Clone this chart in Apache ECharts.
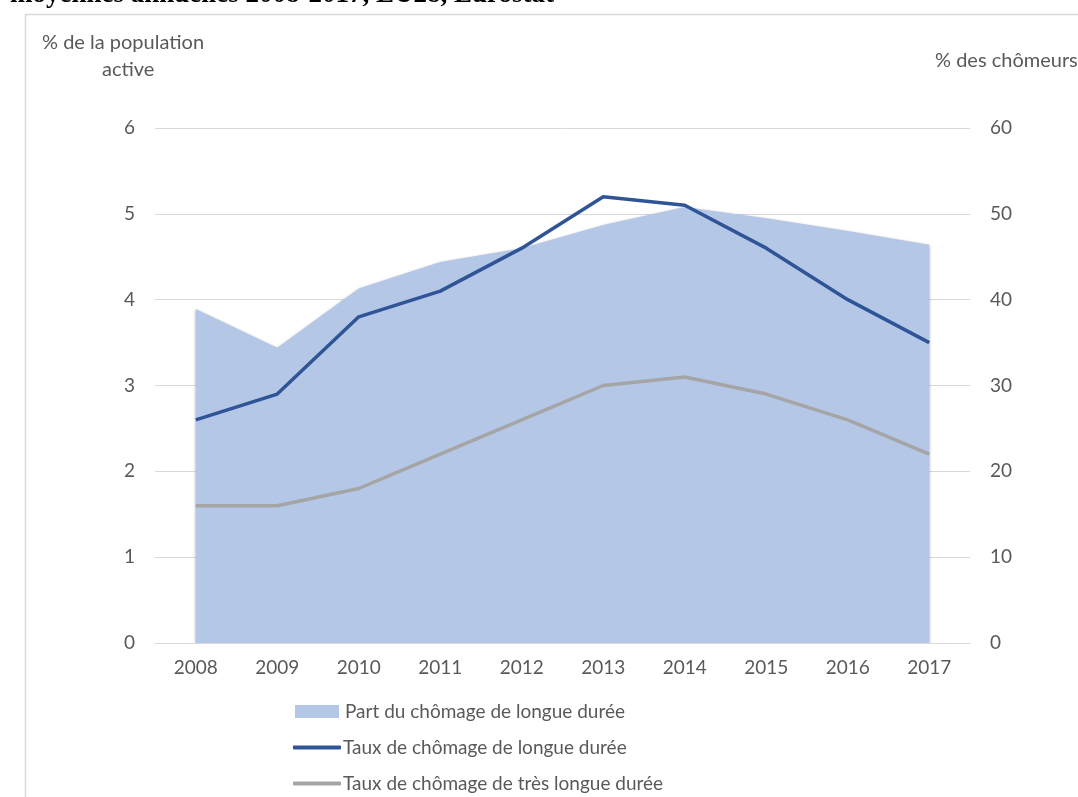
<!DOCTYPE html>
<html>
<head>
<meta charset="utf-8">
<script src="https://cdn.jsdelivr.net/npm/echarts@6/dist/echarts.min.js"></script>
<style>
  html, body { margin: 0; padding: 0; background: #fff; }
  #chart { width: 1078px; height: 797px; }
</style>
</head>
<body>
<div id="chart"></div>
<script>
// données
var years = ["2008", "2009", "2010", "2011", "2012", "2013", "2014", "2015", "2016", "2017"];
var partLongue = [38.9, 34.4, 41.3, 44.4, 46.0, 48.7, 50.8, 49.5, 48.0, 46.4]; // % des chômeurs
var tauxLongue = [2.6, 2.9, 3.8, 4.1, 4.6, 5.2, 5.1, 4.6, 4.0, 3.5];          // % de la population active
var tauxTresLongue = [1.6, 1.6, 1.8, 2.2, 2.6, 3.0, 3.1, 2.9, 2.6, 2.2];
var leftTicks = [0, 6, 1];
var rightTicks = [0, 60, 10];

var txtColor = "#595959";
var font = "Lato, 'Open Sans', sans-serif";

// une légende par ligne, pour placer chaque entrée comme sur l'original
function legendItem(name, icon, left, top, w, h, textPad) {
  return {
    orient: "vertical",
    left: left,
    top: top,
    padding: 0,
    itemWidth: w,
    itemHeight: h,
    textStyle: { color: txtColor, fontSize: 19, fontFamily: font, padding: [0, 0, 0, textPad] },
    data: [{ name: name, icon: icon }]
  };
}

var myChart = echarts.init(document.getElementById("chart"));
var option = {
  animation: false,
  textStyle: { fontFamily: font },
  graphic: [
    {
      type: "text",
      left: 10,
      top: -18,
      style: {
        text: "moyennes annuelles 2008-2017, EU28, Eurostat",
        font: "bold 27px 'Liberation Serif', serif",
        fill: "#000"
      }
    },
    {
      type: "rect",
      shape: { x: 25.5, y: 14.5, width: 1100, height: 820 },
      style: { fill: "none", stroke: "#D9D9D9", lineWidth: 1.5 }
    },
    {
      type: "text",
      left: 42,
      top: 33,
      style: { text: "% de la population", font: "20px " + font, fill: txtColor }
    },
    {
      type: "text",
      left: 102,
      top: 60,
      style: { text: "active", font: "20px " + font, fill: txtColor }
    },
    {
      type: "text",
      left: 935,
      top: 51,
      style: { text: "% des chômeurs", font: "20px " + font, fill: txtColor }
    }
  ],
  grid: { left: 155, right: 108, top: 128, bottom: 154 },
  legend: [
    legendItem("Part du chômage de longue durée", "rect", 295, 702, 44, 13, 1),
    legendItem("Taux de chômage de longue durée", "roundRect", 293, 738, 48, 4, -3),
    legendItem("Taux de chômage de très longue durée", "roundRect", 293, 774, 48, 4, -3)
  ],
  xAxis: {
    type: "category",
    data: years,
    boundaryGap: true,
    axisLine: { lineStyle: { color: "#D9D9D9" } },
    axisTick: { show: false },
    axisLabel: { color: txtColor, fontSize: 19, margin: 15 }
  },
  yAxis: [
    {
      type: "value",
      min: leftTicks[0],
      max: leftTicks[1],
      interval: leftTicks[2],
      axisLine: { show: false },
      axisTick: { show: false },
      axisLabel: { color: txtColor, fontSize: 19, margin: 20 },
      splitLine: { lineStyle: { color: "#D9D9D9" } }
    },
    {
      type: "value",
      min: rightTicks[0],
      max: rightTicks[1],
      interval: rightTicks[2],
      axisLine: { show: false },
      axisTick: { show: false },
      axisLabel: { color: txtColor, fontSize: 19, margin: 20 },
      splitLine: { show: false }
    }
  ],
  series: [
    {
      name: "Part du chômage de longue durée",
      type: "line",
      yAxisIndex: 1,
      data: partLongue,
      symbol: "none",
      color: "#B4C7E7",
      lineStyle: { width: 0 },
      areaStyle: {
        color: "#B4C7E7",
        opacity: 1,
        shadowBlur: 3,
        shadowColor: "rgba(0,0,0,0.35)",
        shadowOffsetX: 0,
        shadowOffsetY: 1
      },
      z: 1
    },
    {
      name: "Taux de chômage de longue durée",
      type: "line",
      yAxisIndex: 0,
      data: tauxLongue,
      symbol: "none",
      color: "#2F5597",
      lineStyle: { width: 3.5, color: "#2F5597" },
      z: 3
    },
    {
      name: "Taux de chômage de très longue durée",
      type: "line",
      yAxisIndex: 0,
      data: tauxTresLongue,
      symbol: "none",
      color: "#A5A5A5",
      lineStyle: { width: 3.5, color: "#A5A5A5" },
      z: 2
    }
  ]
};
myChart.setOption(option);
</script>
</body>
</html>
